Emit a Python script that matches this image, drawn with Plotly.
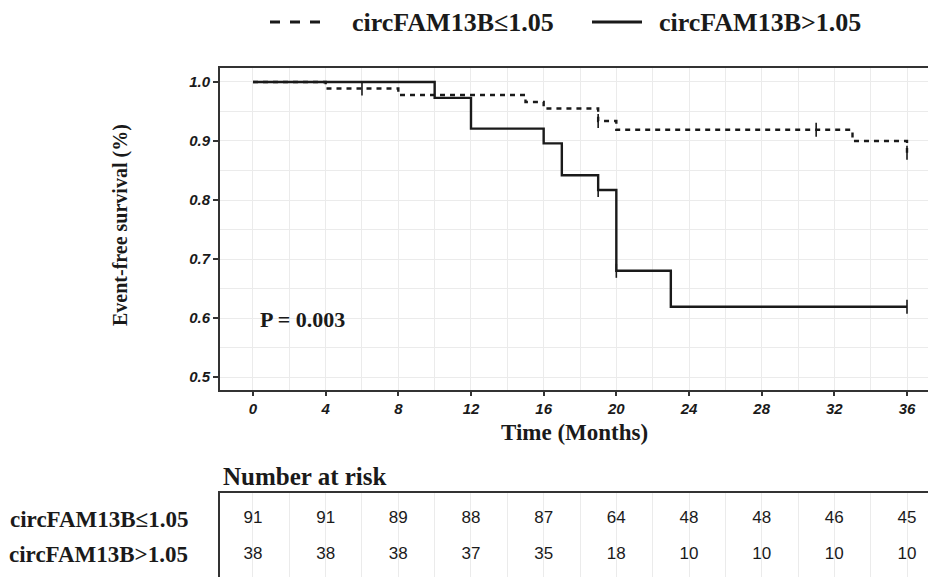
import plotly.graph_objects as go

# ---------------- data ----------------
group_labels = ["circFAM13B≤1.05", "circFAM13B>1.05"]

low_time = [0, 4, 8, 15, 16, 19, 20, 33, 36]
low_surv = [1.0, 0.989, 0.978, 0.966, 0.955, 0.934, 0.919, 0.900, 0.880]
low_cens_time = [6, 19, 31, 36]
low_cens_surv = [0.989, 0.934, 0.919, 0.880]

high_time = [0, 10, 12, 16, 17, 19, 20, 23, 36]
high_surv = [1.0, 0.973, 0.921, 0.896, 0.842, 0.817, 0.680, 0.619, 0.619]
high_cens_time = [19, 20, 36]
high_cens_surv = [0.817, 0.680, 0.619]

risk_times = [0, 4, 8, 12, 16, 20, 24, 28, 32, 36]
risk_low = [91, 91, 89, 88, 87, 64, 48, 48, 46, 45]
risk_high = [38, 38, 38, 37, 35, 18, 10, 10, 10, 10]

x_ticks = [0, 4, 8, 12, 16, 20, 24, 28, 32, 36]
y_ticks = [0.5, 0.6, 0.7, 0.8, 0.9, 1.0]
p_text = "P = 0.003"

# ---------------- style ----------------
SERIF = "Liberation Serif"
SANS = "Liberation Sans"
INK = "#1a1a1a"
GRID = "#ebebeb"
W, H = 928, 577
L = 220
PW = W - L
row_y = [0.69, 0.262]

fig = go.Figure()

fig.add_trace(go.Scatter(
    x=low_time, y=low_surv, mode="lines", line_shape="hv",
    line=dict(color=INK, width=2.4, dash="5px,5px"),
    name=group_labels[0], showlegend=False))
fig.add_trace(go.Scatter(
    x=high_time, y=high_surv, mode="lines", line_shape="hv",
    line=dict(color=INK, width=2.4),
    name=group_labels[1], showlegend=False))
fig.add_trace(go.Scatter(
    x=low_cens_time, y=low_cens_surv, mode="markers", showlegend=False,
    marker=dict(symbol="line-ns", size=10, line=dict(width=1.6, color=INK))))
fig.add_trace(go.Scatter(
    x=high_cens_time, y=high_cens_surv, mode="markers", showlegend=False,
    marker=dict(symbol="line-ns", size=10, line=dict(width=1.6, color=INK))))

# risk table
fig.add_trace(go.Scatter(
    x=risk_times, y=[row_y[0]] * len(risk_times), mode="text",
    text=[str(v) for v in risk_low], xaxis="x2", yaxis="y2", showlegend=False,
    textfont=dict(family=SANS, size=17, color=INK)))
fig.add_trace(go.Scatter(
    x=risk_times, y=[row_y[1]] * len(risk_times), mode="text",
    text=[str(v) for v in risk_high], xaxis="x2", yaxis="y2", showlegend=False,
    textfont=dict(family=SANS, size=17, color=INK)))

xr = [-1.816, 37.156]
ydom = [(H - 390) / H, (H - 68) / H]
tdom = [0, (H - 493) / H]

fig.update_layout(
    width=W, height=H,
    margin=dict(l=L, r=0, t=0, b=0),
    paper_bgcolor="white", plot_bgcolor="white",
    showlegend=False,
    xaxis=dict(
        domain=[0, 1], range=xr, tickvals=x_ticks, anchor="y",
        showline=True, linecolor="#333", linewidth=2, mirror=True,
        ticks="outside", ticklen=4, tickcolor="#333", tickwidth=1.5,
        tickfont=dict(family=SANS, size=15, color=INK, weight="bold", style="italic"),
        showgrid=True, gridcolor=GRID, gridwidth=1,
        minor=dict(dtick=2, tick0=0, showgrid=True, gridcolor=GRID, gridwidth=1),
        zeroline=False),
    yaxis=dict(
        domain=ydom, range=[0.478, 1.0237], tickvals=y_ticks,
        ticktext=[f"{v:.1f}" for v in y_ticks],
        showline=True, linecolor="#333", linewidth=2,
        ticks="outside", ticklen=5, tickcolor="#333", tickwidth=1.5,
        tickfont=dict(family=SANS, size=15, color=INK, weight="bold", style="italic"),
        showgrid=True, gridcolor=GRID, gridwidth=1,
        minor=dict(dtick=0.05, tick0=0.5, showgrid=True, gridcolor=GRID, gridwidth=1),
        zeroline=False),
    xaxis2=dict(
        domain=[0, 1], range=xr, anchor="y2", side="top",
        showline=True, linecolor="#333", linewidth=2,
        showticklabels=False, ticks="",
        tickvals=x_ticks, showgrid=True, gridcolor=GRID,
        minor=dict(dtick=2, tick0=0, showgrid=True, gridcolor=GRID),
        zeroline=False),
    yaxis2=dict(
        domain=tdom, range=[0, 1], anchor="x2",
        showline=True, linecolor="#333", linewidth=2,
        showticklabels=False, ticks="", showgrid=False, zeroline=False),
)

# legend (key samples + labels)
leg_y = (H - 22) / H
leg_keys = [(270, 320, "10px,10px", 350), (592, 642, "solid", 657)]
for (x0, x1, dash, tx), lab in zip(leg_keys, group_labels):
    fig.add_shape(type="line", xref="paper", yref="paper",
                  x0=(x0 - L) / PW, x1=(x1 - L) / PW, y0=leg_y, y1=leg_y,
                  line=dict(color=INK, width=2.8, dash=dash))
    fig.add_annotation(x=(tx - L) / PW, y=leg_y, xref="paper", yref="paper", text=lab,
                       showarrow=False, xanchor="left", yanchor="middle",
                       font=dict(family=SERIF, size=26, color=INK, weight="bold"))

ann_font = dict(family=SERIF, color=INK, weight="bold")
fig.add_annotation(x=0.3, y=0.597, xref="x", yref="y", text=p_text, showarrow=False,
                   xanchor="left", yanchor="middle", font=dict(size=22, **ann_font))
fig.add_annotation(x=0.5, y=(H - 432) / H, xref="paper", yref="paper", text="Time (Months)",
                   showarrow=False, xanchor="center", yanchor="middle",
                   font=dict(size=23, **ann_font))
fig.add_annotation(x=(120 - L) / PW, y=(H - 225) / H, xref="paper", yref="paper",
                   text="Event-free survival (%)", textangle=-90, showarrow=False,
                   xanchor="center", yanchor="middle", font=dict(size=20, **ann_font))
fig.add_annotation(x=(221 - L) / PW, y=(H - 476) / H, xref="paper", yref="paper",
                   text="Number at risk", showarrow=False, xanchor="left", yanchor="middle",
                   font=dict(size=25, **ann_font))
for lab, ry in zip(group_labels, row_y):
    fig.add_annotation(x=(190 - L) / PW, y=ry, xref="paper", yref="y2", text=lab,
                       showarrow=False, xanchor="right", yanchor="middle",
                       font=dict(size=23, **ann_font))

fig.write_html("out.html")
